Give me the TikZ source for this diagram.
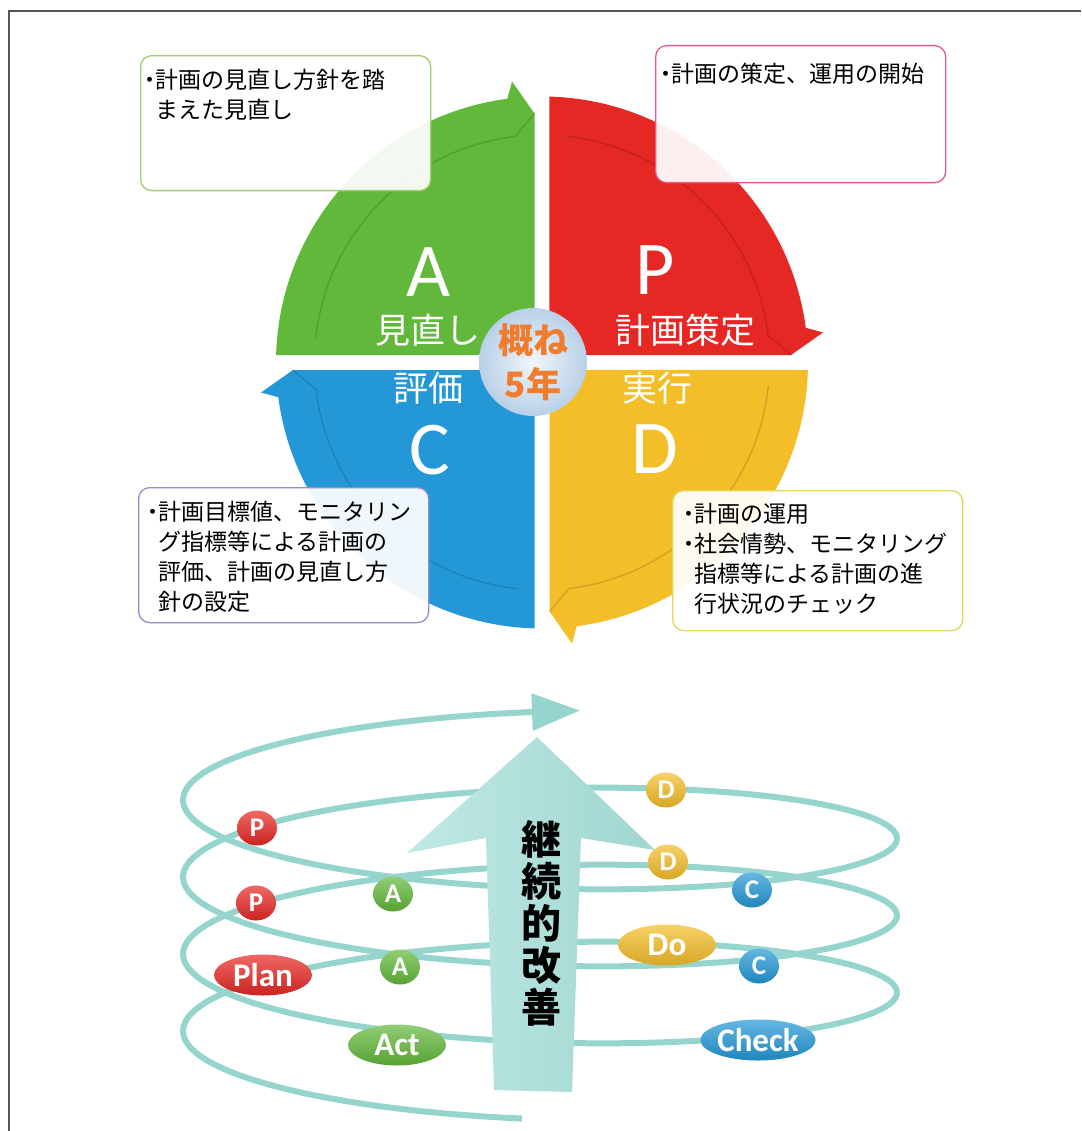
\documentclass[tikz,border=0pt]{standalone}
\usepackage{fontspec}
\usepackage{tikz}
\usetikzlibrary{arrows.meta,positioning,shapes.geometric}
\newfontfamily\jp{Noto Sans CJK JP}
\newfontfamily\lat{Carlito}
\definecolor{actgreen}{RGB}{98,184,58}
\definecolor{planred}{RGB}{230,40,36}
\definecolor{doyellow}{RGB}{244,190,40}
\definecolor{checkblue}{RGB}{36,152,214}
\definecolor{actedge}{RGB}{160,205,110}
\definecolor{planedge}{RGB}{232,90,130}
\definecolor{checkedge}{RGB}{150,140,200}
\definecolor{doedge}{RGB}{228,214,80}
\definecolor{helixteal}{RGB}{150,213,205}
\definecolor{arrowteal}{RGB}{160,214,208}
\definecolor{arrowlight}{RGB}{192,233,229}
\definecolor{badgeorange}{RGB}{240,125,45}
\definecolor{badgeblue}{RGB}{185,208,232}
\definecolor{framegrey}{RGB}{85,85,85}
\newcommand{\bul}{\makebox[0.45em][c]{・}}
\newcommand{\noteindent}{\hspace*{0.45em}}
% one quarter of the cycle, drawn as the top-left one and turned
\newcommand{\pdcaquarter}[2]{%
  \begin{scope}[shift={(542,362.5)}, rotate=#2]
    \fill[#1] (-7.5,-7.5) -- (181.6:266) arc[start angle=181.6, end angle=262.5, radius=266]
      -- (-30,-281) -- (-7.5,-249) -- cycle;
    \draw[#1!70!black, line width=1.5pt, opacity=0.45] (-7.5,-249) -- (-27,-226)
      arc[start angle=263.2, end angle=186, radius=227.5];
  \end{scope}}

\begin{document}
\begin{tikzpicture}[x=1pt, y=-1pt,
  note/.style={draw=#1, line width=1.3pt, rounded corners=11pt, fill=white, fill opacity=0.93,
               inner sep=0pt, anchor=north west},
  notetext/.style={anchor=north west, align=left, inner sep=0pt, font=\jp\fontsize{23}{30}\selectfont},
  bigletter/.style={text=white, inner sep=0pt, font=\lat\fontsize{76}{76}\selectfont},
  quadlabel/.style={text=white, inner sep=0pt, font=\jp\fontsize{35}{35}\selectfont},
  pill/.style={ellipse, top color=#1!70!white, bottom color=#1!88!black, text=white, inner sep=0pt,
               minimum width=40pt, minimum height=35pt, font=\lat\bfseries\fontsize{27}{27}\selectfont},
  widepill/.style={pill=#1, minimum width=98pt, minimum height=41pt,
               font=\lat\bfseries\fontsize{33}{33}\selectfont},
  helix/.style={draw=helixteal, line width=6pt}]
\useasboundingbox (0,0) rectangle (1081,1131);
% frame
\draw[framegrey, line width=1.5pt] (9,1131) -- (9,11) -- (1081,11);
% cycle quarters
\pdcaquarter{actgreen}{0}
\pdcaquarter{planred}{-90}
\pdcaquarter{doyellow}{180}
\pdcaquarter{checkblue}{90}
% quarter labels
\node[bigletter] (letA) at (428,272) {A};
\node[quadlabel] (labA) at (428,330) {見直し};
\node[bigletter] (letP) at (655,270) {P};
\node[quadlabel] (labP) at (685,330) {計画策定};
\node[quadlabel] (labC) at (428,388) {評価};
\node[bigletter] (letC) at (430,450) {C};
\node[quadlabel] (labD) at (657,388) {実行};
\node[bigletter] (letD) at (655,449) {D};
% centre badge
\node[circle, minimum size=108pt, inner sep=0pt, inner color=white!80!badgeblue, outer color=badgeblue,
      text=badgeorange, align=center, font=\jp\bfseries\fontsize{35}{44}\selectfont] (years) at (533,362) {概ね\\5年};
% note boxes
\node[note=actedge, minimum width=290pt, minimum height=135pt] (actnote) at (140,55) {};
\node[notetext] (acttext) at ([shift={(5,14)}]actnote.north west) {\bul 計画の見直し方針を踏\\\noteindent まえた見直し};
\node[note=planedge, minimum width=290pt, minimum height=137pt] (plannote) at (655,45) {};
\node[notetext] (plantext) at ([shift={(6,18)}]plannote.north west) {\bul 計画の策定、運用の開始};
\node[note=checkedge, minimum width=290pt, minimum height=135pt] (checknote) at (138,487) {};
\node[notetext] (checktext) at ([shift={(10,14)}]checknote.north west)
  {\bul 計画目標値、モニタリン\\\noteindent グ指標等による計画の\\\noteindent 評価、計画の見直し方\\\noteindent 針の設定};
\node[note=doedge, minimum width=290pt, minimum height=140pt] (donote) at (672,490) {};
\node[notetext] (dotext) at ([shift={(12,13)}]donote.north west)
  {\bul 計画の運用\\\bul 社会情勢、モニタリング\\\noteindent 指標等による計画の進\\\noteindent 行状況のチェック};
% spiral of repeated cycles
\draw[helix] plot[domain=-20.37:1.543, samples=420, variable=\t]
  ({540-357*cos(\t r)}, {800-12.255*\t-69*sin(\t r)});
\coordinate (spiralend) at (529,712.2);
\coordinate (spiraltip) at (580,710.5);
\draw[helix, -{Triangle[length=48pt,width=36pt]}] (spiralend) -- (spiraltip);
% improvement arrow
\shade[left color=arrowlight, right color=arrowteal] (537,737) -- (655,850) -- (581,838) -- (572,1092)
  -- (494,1090) -- (486,838) -- (407,853) -- cycle;
\node[align=center, font=\jp\bfseries\fontsize{40}{42}\selectfont] (kaizen) at (541,923) {継\\続\\的\\改\\善};
% badges on the spiral
\node[pill=planred] (p1) at (257,828) {P};
\node[pill=planred] (p2) at (256,903) {P};
\node[widepill=planred] (plan) at (263,975) {Plan};
\node[pill=actgreen] (a1) at (393,894) {A};
\node[pill=actgreen] (a2) at (400,967) {A};
\node[widepill=actgreen] (act) at (397,1045) {Act};
\node[pill=doyellow] (d1) at (666,790) {D};
\node[pill=doyellow] (d2) at (668,862) {D};
\node[widepill=doyellow] (do) at (667,945) {Do};
\node[pill=checkblue] (c1) at (752,890) {C};
\node[pill=checkblue] (c2) at (759,966) {C};
\node[widepill=checkblue] (check) at (758,1040) {Check};
\end{tikzpicture}
\end{document}
